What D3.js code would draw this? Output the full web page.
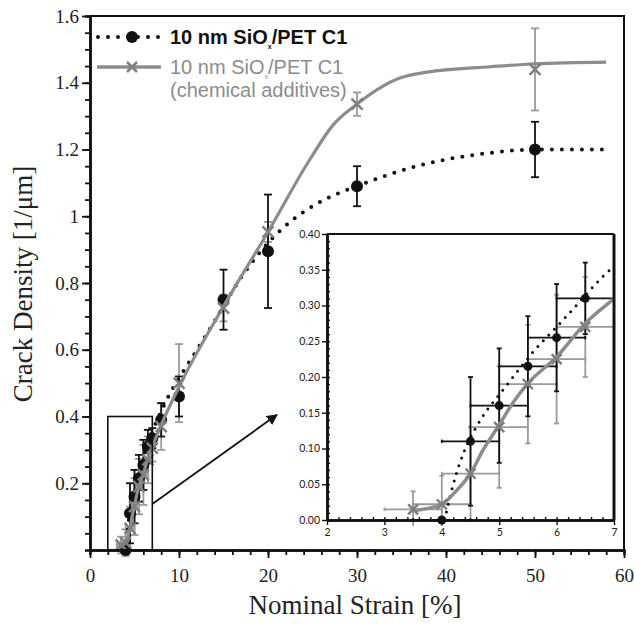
<!DOCTYPE html>
<html>
<head>
<meta charset="utf-8">
<script src="https://cdn.jsdelivr.net/npm/d3@7"></script>
<style>
  body { margin: 0; background: #fff; }
  svg { display: block; }
</style>
</head>
<body>
<div id="graph"></div>
<script>
// measured points, black series (10 nm SiOx/PET C1)
const strainB = [4, 4.5, 5, 5.5, 6, 6.5, 7, 8, 10, 15, 20, 30, 50];
const densB   = [0.0, 0.11, 0.16, 0.215, 0.255, 0.31, 0.335, 0.39, 0.46, 0.75, 0.895, 1.09, 1.20];
const yErrB   = [0.0, 0.09, 0.08, 0.07, 0.075, 0.05, 0.03, 0.05, 0.06, 0.09, 0.17, 0.06, 0.083];
const xErrB   = [0.5, 0.5, 0.5, 0.5, 0.5, 0.5, 0, 0, 0, 0, 0, 0, 0];

// measured points, gray series (chemical additives)
const strainG = [3.5, 4, 4.5, 5, 5.5, 6, 6.5, 7, 8, 10, 15, 20, 30, 50];
const densG   = [0.015, 0.022, 0.065, 0.13, 0.19, 0.225, 0.27, 0.305, 0.37, 0.50, 0.725, 0.953, 1.336, 1.44];
const yErrG   = [0.025, 0.04, 0.065, 0.085, 0.083, 0.09, 0.07, 0.04, 0.07, 0.117, 0.04, 0.03, 0.035, 0.123];
const xErrG   = [0.5, 0.5, 0.5, 0.5, 0.5, 0.5, 0.5, 0, 0, 0, 0, 0, 0, 0];

// fitted curves
const fitStrainB = [4.05, 4.1, 4.2, 4.4, 4.6, 4.8, 5.0, 5.3, 5.6, 6.0, 6.4, 6.8, 7, 8, 9, 10, 11.2, 13.3, 15, 16.1, 17.6, 20, 21.7, 26.5, 30, 36.7, 45, 50, 58];
const fitDensB   = [0.0, 0.018, 0.05, 0.098, 0.13, 0.155, 0.175, 0.206, 0.236, 0.27, 0.305, 0.34, 0.355, 0.415, 0.47, 0.515, 0.565, 0.655, 0.73, 0.78, 0.84, 0.92, 0.965, 1.052, 1.09, 1.15, 1.19, 1.20, 1.20];
const fitStrainG = [3.5, 4.0, 4.23, 4.5, 4.72, 5.0, 5.24, 5.5, 6.0, 6.5, 6.9, 8, 10.4, 15, 20, 24.7, 27.3, 30, 34.8, 37.9, 45, 50, 58];
const fitDensG   = [0.013, 0.022, 0.039, 0.065, 0.098, 0.133, 0.164, 0.191, 0.228, 0.275, 0.303, 0.375, 0.51, 0.73, 0.953, 1.17, 1.273, 1.336, 1.414, 1.432, 1.448, 1.457, 1.462];

const xTicks = [0, 10, 20, 30, 40, 50, 60];
const yTicks = [0.2, 0.4, 0.6, 0.8, 1, 1.2, 1.4, 1.6];
const insetXTicks = [2, 3, 4, 5, 6, 7];
const insetYTicks = [0, 0.05, 0.1, 0.15, 0.2, 0.25, 0.3, 0.35, 0.4];

const legendLabel = '10 nm SiO';
const legendSub = 'x';
const legendRest = '/PET C1';

const w = 635, h = 625;
const gray = '#8c8c8c';
const serif = 'Liberation Serif, Times New Roman, serif';
const sans = 'Liberation Sans, Arial, sans-serif';

const svg = d3.select('#graph').append('svg').attr('width', w).attr('height', h);

const xMain = d3.scaleLinear().domain([0, 60]).range([90, 624]);
const yMain = d3.scaleLinear().domain([0, 1.6]).range([550, 16]);
const xIn = d3.scaleLinear().domain([2, 7]).range([327, 614]);
const yIn = d3.scaleLinear().domain([0, 0.4]).range([520, 234]);

function series(xs, ys, ex, ey) {
  return xs.map((x, i) => ({x: x, y: ys[i], ex: ex[i], ey: ey[i]}));
}
const ptsB = series(strainB, densB, xErrB, yErrB);
const ptsG = series(strainG, densG, xErrG, yErrG);
const fitB = fitStrainB.map((x, i) => ({x: x, y: fitDensB[i]}));
const fitG = fitStrainG.map((x, i) => ({x: x, y: fitDensG[i]}));

function drawErr(g, pts, xs, ys, color, sw, cap) {
  const e = g.append('g').attr('stroke', color).attr('stroke-width', sw).attr('fill', 'none');
  pts.forEach(d => {
    if (d.ey > 0) {
      e.append('line').attr('x1', xs(d.x)).attr('x2', xs(d.x)).attr('y1', ys(d.y - d.ey)).attr('y2', ys(d.y + d.ey));
      [d.y - d.ey, d.y + d.ey].forEach(v => {
        e.append('line').attr('x1', xs(d.x) - cap).attr('x2', xs(d.x) + cap).attr('y1', ys(v)).attr('y2', ys(v));
      });
    }
    if (d.ex > 0) {
      e.append('line').attr('x1', xs(d.x - d.ex)).attr('x2', xs(d.x + d.ex)).attr('y1', ys(d.y)).attr('y2', ys(d.y));
      [d.x - d.ex, d.x + d.ex].forEach(v => {
        e.append('line').attr('x1', xs(v)).attr('x2', xs(v)).attr('y1', ys(d.y) - cap * 0.7).attr('y2', ys(d.y) + cap * 0.7);
      });
    }
  });
}

function crossPath(cx, cy, s) {
  return `M${cx - s},${cy - s}L${cx + s},${cy + s}M${cx - s},${cy + s}L${cx + s},${cy - s}`;
}

function drawAll(g, xs, ys, o, keep) {
  const pb = ptsB.filter(keep), pg = ptsG.filter(keep);
  drawErr(g, pg, xs, ys, '#9a9a9a', o.errW, o.cap);
  drawErr(g, pb, xs, ys, '#111', o.errW, o.cap);
  const line = d3.line().x(d => xs(d.x)).y(d => ys(d.y)).curve(d3.curveMonotoneX);
  g.append('path').datum(fitB).attr('d', line)
    .attr('fill', 'none').attr('stroke', '#111').attr('stroke-width', o.dot)
    .attr('stroke-linecap', 'round').attr('stroke-dasharray', '0,' + o.gap);
  g.selectAll(null).data(pb).enter().append('circle')
    .attr('cx', d => xs(d.x)).attr('cy', d => ys(d.y)).attr('r', o.r).attr('fill', '#111');
  g.append('path').datum(fitG).attr('d', line)
    .attr('fill', 'none').attr('stroke', gray).attr('stroke-width', o.lw);
  g.selectAll(null).data(pg).enter().append('path')
    .attr('d', d => crossPath(xs(d.x), ys(d.y), o.cs))
    .attr('stroke', '#7f7f7f').attr('stroke-width', 2.5).attr('fill', 'none');
}

// ---- main chart ----
const main = svg.append('g');
drawAll(main, xMain, yMain, {errW: 1.8, cap: 4, dot: 4, gap: 10, r: 6, lw: 3.2, cs: 5.5}, d => true);

// zoom box and arrow
svg.append('rect')
  .attr('x', xMain(2)).attr('y', yMain(0.4))
  .attr('width', xMain(7) - xMain(2)).attr('height', yMain(0) - yMain(0.4))
  .attr('fill', 'none').attr('stroke', '#111').attr('stroke-width', 1.6);

svg.append('defs').append('marker')
  .attr('id', 'arrow').attr('viewBox', '0 0 10 10').attr('refX', 9).attr('refY', 5)
  .attr('markerWidth', 6).attr('markerHeight', 6).attr('orient', 'auto')
  .append('path').attr('d', 'M0,0L10,5L0,10z').attr('fill', '#111');
svg.append('line')
  .attr('x1', xMain(7)).attr('y1', yMain(0.138))
  .attr('x2', xMain(21)).attr('y2', yMain(0.405))
  .attr('stroke', '#111').attr('stroke-width', 1.8).attr('marker-end', 'url(#arrow)');

// frame
svg.append('path')
  .attr('d', `M${xMain(0)},${yMain(1.6)}H${xMain(60)}V${yMain(0)}`)
  .attr('fill', 'none').attr('stroke', '#111').attr('stroke-width', 2);

// axes
const yAxis = d3.axisLeft(yMain).tickValues(yTicks).tickSizeInner(8).tickSizeOuter(0)
  .tickFormat(d3.format('~g'));
const yMinor = d3.axisLeft(yMain).tickValues(d3.range(1, 32).map(i => i * 0.05))
  .tickSize(5).tickFormat('');
svg.append('g').attr('transform', `translate(${xMain(0)},0)`).call(yMinor);
svg.append('g').attr('transform', `translate(${xMain(0)},0)`).call(yAxis)
  .call(g => g.selectAll('text').attr('font-family', serif).attr('font-size', 19).attr('fill', '#222').attr('x', -11));

const xAxis = d3.axisBottom(xMain).tickValues(xTicks).tickSizeInner(8).tickSizeOuter(0);
const xMinor = d3.axisBottom(xMain).tickValues(d3.range(1, 30).map(i => i * 2)).tickSize(5).tickFormat('');
svg.append('g').attr('transform', `translate(0,${yMain(0)})`).call(xMinor);
svg.append('g').attr('transform', `translate(0,${yMain(0)})`).call(xAxis)
  .call(g => g.selectAll('text').attr('font-family', serif).attr('font-size', 19).attr('fill', '#222').attr('y', 19));

svg.selectAll('.domain').attr('stroke-width', 2.5).attr('stroke', '#111');
svg.selectAll('.tick line').attr('stroke-width', 1.8).attr('stroke', '#111');

svg.append('text')
  .attr('x', 355).attr('y', 614).attr('text-anchor', 'middle')
  .attr('font-family', serif).attr('font-size', 27).attr('fill', '#222')
  .text('Nominal Strain [%]');
svg.append('text')
  .attr('transform', 'translate(32,284) rotate(-90)').attr('text-anchor', 'middle')
  .attr('font-family', serif).attr('font-size', 27).attr('fill', '#222')
  .text('Crack Density [1/μm]');

// ---- legend ----
const leg = svg.append('g');
leg.append('line').attr('x1', 98).attr('x2', 160).attr('y1', 37).attr('y2', 37)
  .attr('stroke', '#111').attr('stroke-width', 4).attr('stroke-linecap', 'round').attr('stroke-dasharray', '0,10');
leg.append('circle').attr('cx', 132).attr('cy', 37).attr('r', 6).attr('fill', '#111');
leg.append('line').attr('x1', 97).attr('x2', 161).attr('y1', 67).attr('y2', 67)
  .attr('stroke', gray).attr('stroke-width', 3.5);
leg.append('path').attr('d', crossPath(132, 67, 5)).attr('stroke', '#7f7f7f').attr('stroke-width', 2.5);

function legendText(y, color, weight) {
  const t = leg.append('text').attr('x', 170).attr('y', y)
    .attr('font-family', sans).attr('font-size', 20).attr('font-weight', weight).attr('fill', color);
  t.append('tspan').text(legendLabel);
  t.append('tspan').attr('font-size', 7).attr('dy', 5).text(legendSub);
  t.append('tspan').attr('dy', -5).text(legendRest);
}
legendText(44, '#111', 'bold');
legendText(74, gray, 'normal');
leg.append('text').attr('x', 170).attr('y', 97)
  .attr('font-family', sans).attr('font-size', 20).attr('fill', gray)
  .text('(chemical additives)');

// ---- inset ----
const inset = svg.append('g');
inset.append('rect').attr('x', xIn(2)).attr('y', yIn(0.4))
  .attr('width', xIn(7) - xIn(2)).attr('height', yIn(0) - yIn(0.4)).attr('fill', '#fff');
svg.append('clipPath').attr('id', 'clipIn').append('rect')
  .attr('x', xIn(2)).attr('y', yIn(0.4))
  .attr('width', xIn(7) - xIn(2)).attr('height', yIn(0) - yIn(0.4) + 6);
const inner = inset.append('g').attr('clip-path', 'url(#clipIn)');
drawAll(inner, xIn, yIn, {errW: 1.8, cap: 2.5, dot: 3, gap: 8, r: 4.5, lw: 3.5, cs: 5}, d => d.x < 7);

inset.append('path')
  .attr('d', `M${xIn(2)},${yIn(0.4)}H${xIn(7)}`)
  .attr('stroke', '#111').attr('stroke-width', 1.8);
inset.append('path')
  .attr('d', `M${xIn(7)},${yIn(0.4)}V${yIn(0)}`)
  .attr('stroke', '#111').attr('stroke-width', 3);

const iyMinor = d3.axisLeft(yIn).tickValues(d3.range(1, 40).map(i => i * 0.01))
  .tickSizeInner(-3).tickSizeOuter(0).tickFormat('');
const iyAxis = d3.axisLeft(yIn).tickValues(insetYTicks).tickSizeInner(5).tickSizeOuter(0)
  .tickFormat(d3.format('.2f'));
inset.append('g').attr('transform', `translate(${xIn(2)},0)`).call(iyMinor);
inset.append('g').attr('transform', `translate(${xIn(2)},0)`).call(iyAxis)
  .call(g => g.selectAll('text').attr('font-family', 'Lato, sans-serif').attr('font-size', 10.5).attr('fill', '#222').attr('x', -7));

const ixMinor = d3.axisBottom(xIn).tickValues(d3.range(10, 35).map(i => i * 0.2))
  .tickSizeInner(-3).tickSizeOuter(0).tickFormat('');
const ixAxis = d3.axisBottom(xIn).tickValues(insetXTicks).tickSizeInner(5).tickSizeOuter(0)
  .tickFormat(d3.format('d'));
inset.append('g').attr('transform', `translate(0,${yIn(0)})`).call(ixMinor);
inset.append('g').attr('transform', `translate(0,${yIn(0)})`).call(ixAxis)
  .call(g => g.selectAll('text').attr('font-family', 'Lato, sans-serif').attr('font-size', 10.5).attr('fill', '#222').attr('y', 9));

inset.selectAll('.domain').attr('stroke-width', 2.5).attr('stroke', '#111');
inset.selectAll('.tick line').attr('stroke-width', 1.4).attr('stroke', '#111');
</script>
</body>
</html>
